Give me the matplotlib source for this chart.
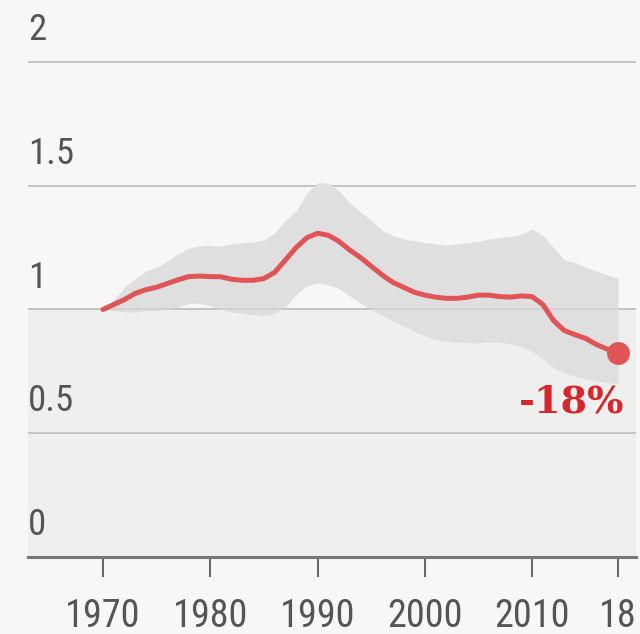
import matplotlib
matplotlib.use("Agg")
import matplotlib.pyplot as plt
import numpy as np

years = list(range(1970, 2019))
index_values = [1.00, 1.02, 1.04, 1.065, 1.08, 1.09, 1.105, 1.12, 1.133, 1.135,
                1.133, 1.132, 1.122, 1.118, 1.118, 1.125, 1.15, 1.20, 1.25, 1.29,
                1.308, 1.300, 1.275, 1.24, 1.21, 1.175, 1.14, 1.11, 1.09, 1.07,
                1.058, 1.05, 1.045, 1.045, 1.05, 1.058, 1.058, 1.052, 1.05, 1.055,
                1.052, 1.02, 0.955, 0.915, 0.898, 0.883, 0.858, 0.84, 0.824]
upper_band = [1.00, 1.04, 1.09, 1.125, 1.155, 1.17, 1.195, 1.225, 1.248, 1.258,
              1.26, 1.256, 1.265, 1.27, 1.273, 1.28, 1.31, 1.36, 1.40, 1.47,
              1.512, 1.51, 1.48, 1.43, 1.395, 1.36, 1.32, 1.30, 1.285, 1.278,
              1.27, 1.265, 1.26, 1.265, 1.27, 1.275, 1.285, 1.29, 1.295, 1.305,
              1.325, 1.30, 1.25, 1.20, 1.19, 1.17, 1.155, 1.14, 1.125]
lower_band = [1.00, 0.995, 0.99, 0.99, 0.995, 0.995, 1.00, 1.01, 1.025, 1.025,
              1.015, 1.0, 0.99, 0.985, 0.978, 0.975, 0.985, 1.01, 1.06, 1.095,
              1.108, 1.10, 1.085, 1.055, 1.025, 1.00, 0.975, 0.955, 0.935, 0.91,
              0.895, 0.88, 0.872, 0.866, 0.866, 0.865, 0.868, 0.868, 0.862, 0.85,
              0.83, 0.80, 0.765, 0.745, 0.73, 0.72, 0.712, 0.705, 0.70]

x_ticks = [1970, 1980, 1990, 2000, 2010, 2018]
x_tick_labels = ["1970", "1980", "1990", "2000", "2010", "18"]
y_levels = [0, 0.5, 1, 1.5, 2]
y_labels = ["0", "0.5", "1", "1.5", "2"]
change_label = "-18%"

BG = "#f8f7f5"
SHADE = "#efefed"
BAND = "#dfdfdf"
RED = "#e05458"
TEXT_RED = "#d8262c"
GRAY_TXT = "#555555"

narrow = ["Roboto Condensed"]

fig = plt.figure(figsize=(6.4, 6.34), dpi=100, facecolor=BG)
ax = fig.add_axes([28 / 640, 77 / 634, 608 / 640, 557 / 634])
ax.set_facecolor(BG)
ax.set_xlim(1963.01, 2019.68)
ax.set_ylim(0, 2.2505)

ax.axhspan(0, 1, color=SHADE, zorder=0, lw=0)
for v in y_levels[1:]:
    ax.axhline(v, color="#c4c4c4", lw=1.4, zorder=1)

ax.fill_between(years, lower_band, upper_band, color=BAND, lw=0, zorder=2)
ax.axhline(1, color="#c4c4c4", lw=1.2, zorder=2.5, alpha=0.6)
ax.plot(years, index_values, color=RED, lw=3.6, zorder=3, solid_capstyle="round")
ax.plot(years[-1], index_values[-1], "o", color=RED, ms=15.5, zorder=4)

for v, lab in zip(y_levels, y_labels):
    ax.annotate(lab, xy=(0, v), xycoords=("axes fraction", "data"),
                xytext=(0, 15.8), textcoords="offset points",
                ha="left", va="baseline", fontsize=26.5, color=GRAY_TXT,
                family=narrow)

ax.annotate(change_label, xy=(years[-1], index_values[-1]),
            xytext=(4.5, -42.5), textcoords="offset points",
            ha="right", va="baseline", fontsize=27.5, color=TEXT_RED,
            family=["DejaVu Serif"], fontweight="bold")

for s in ["top", "left", "right"]:
    ax.spines[s].set_visible(False)
ax.spines["bottom"].set_color("#777777")
ax.spines["bottom"].set_linewidth(2.2)
ax.set_yticks([])
ax.set_xticks(x_ticks)
ax.set_xticklabels(x_tick_labels, family=narrow)
ax.tick_params(axis="x", direction="out", length=14.4, width=1.4,
               color="#666666", labelcolor=GRAY_TXT, labelsize=27.5, pad=15)

fig.savefig("out.png", dpi=100, facecolor=BG)
